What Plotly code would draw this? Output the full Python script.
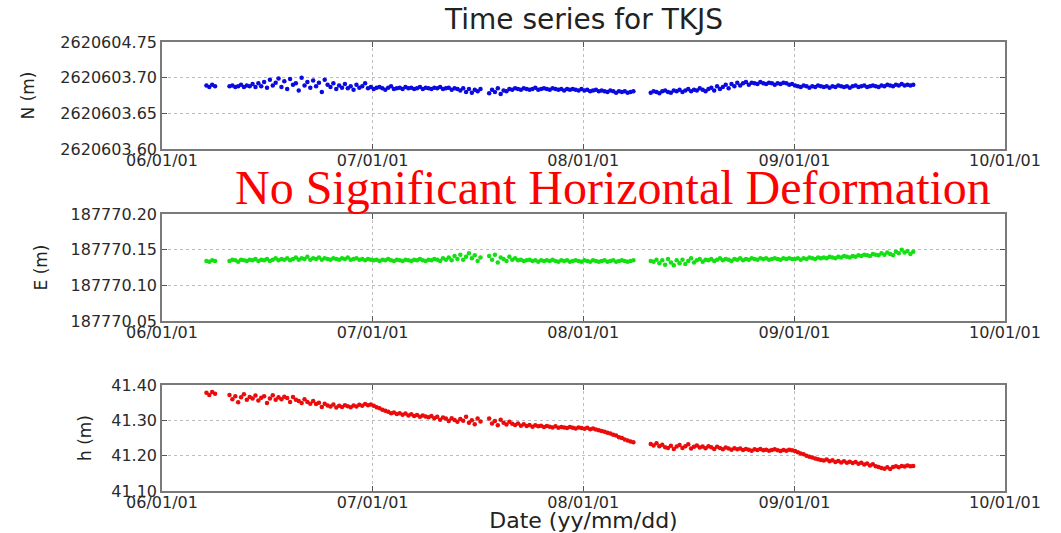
import pandas as pd
import plotly.graph_objects as go

# ---------------- data ----------------
title_text = "Time series for TKJS"
note_text = "No Significant Horizontal Deformation"

# observation segments (start date of each segment, samples every 5 days)
seg_starts = ["2006-03-19", "2006-04-28", "2007-07-22", "2008-04-27"]
step = "5D"

# North (m)
n_seg1 = [2620603.689, 2620603.687, 2620603.690, 2620603.688]
n_seg2 = [2620603.688, 2620603.689, 2620603.687, 2620603.688, 2620603.690, 2620603.687, 2620603.689, 2620603.688, 2620603.691, 2620603.687,
          2620603.692, 2620603.688, 2620603.694, 2620603.686, 2620603.697, 2620603.689, 2620603.693, 2620603.699, 2620603.687, 2620603.695,
          2620603.684, 2620603.698, 2620603.690, 2620603.692, 2620603.682, 2620603.700, 2620603.689, 2620603.694, 2620603.686, 2620603.696,
          2620603.688, 2620603.693, 2620603.680, 2620603.697, 2620603.690, 2620603.687, 2620603.692, 2620603.684, 2620603.689, 2620603.686,
          2620603.691, 2620603.685, 2620603.688, 2620603.683, 2620603.690, 2620603.686, 2620603.688, 2620603.692, 2620603.685, 2620603.687,
          2620603.684, 2620603.686, 2620603.687, 2620603.685, 2620603.683, 2620603.686, 2620603.688, 2620603.684, 2620603.685, 2620603.686,
          2620603.684, 2620603.687, 2620603.685, 2620603.686, 2620603.684, 2620603.685, 2620603.687, 2620603.684, 2620603.686, 2620603.685,
          2620603.684, 2620603.686, 2620603.685, 2620603.687, 2620603.684, 2620603.685, 2620603.686, 2620603.683, 2620603.685, 2620603.684,
          2620603.682, 2620603.685, 2620603.680, 2620603.684, 2620603.679, 2620603.683, 2620603.681, 2620603.684]
n_seg3 = [2620603.678, 2620603.683, 2620603.680, 2620603.685, 2620603.677, 2620603.682, 2620603.681, 2620603.684, 2620603.683, 2620603.685,
          2620603.684, 2620603.683, 2620603.685, 2620603.684, 2620603.683, 2620603.684, 2620603.686, 2620603.683, 2620603.684, 2620603.685,
          2620603.684, 2620603.683, 2620603.685, 2620603.684, 2620603.683, 2620603.684, 2620603.682, 2620603.684, 2620603.683, 2620603.684,
          2620603.683, 2620603.682, 2620603.684, 2620603.682, 2620603.683, 2620603.681, 2620603.682, 2620603.683, 2620603.681, 2620603.682,
          2620603.681, 2620603.680, 2620603.682, 2620603.681, 2620603.679, 2620603.681, 2620603.680, 2620603.681, 2620603.679, 2620603.680,
          2620603.681]
n_seg4 = [2620603.679, 2620603.681, 2620603.680, 2620603.678, 2620603.681, 2620603.682, 2620603.680, 2620603.679, 2620603.682, 2620603.681,
          2620603.683, 2620603.680, 2620603.682, 2620603.684, 2620603.681, 2620603.683, 2620603.682, 2620603.685, 2620603.683, 2620603.681,
          2620603.684, 2620603.686, 2620603.682, 2620603.688, 2620603.684, 2620603.687, 2620603.690, 2620603.685, 2620603.691, 2620603.688,
          2620603.693, 2620603.689, 2620603.692, 2620603.694, 2620603.690, 2620603.693, 2620603.692, 2620603.691, 2620603.694, 2620603.692,
          2620603.691, 2620603.693, 2620603.692, 2620603.690, 2620603.692, 2620603.691, 2620603.693, 2620603.692, 2620603.690, 2620603.691,
          2620603.689, 2620603.688, 2620603.687, 2620603.689, 2620603.688, 2620603.686, 2620603.688, 2620603.687, 2620603.689, 2620603.688,
          2620603.687, 2620603.688, 2620603.686, 2620603.688, 2620603.687, 2620603.689, 2620603.688, 2620603.687, 2620603.688, 2620603.686,
          2620603.688, 2620603.689, 2620603.687, 2620603.688, 2620603.689, 2620603.687, 2620603.688, 2620603.689, 2620603.688, 2620603.687,
          2620603.689, 2620603.688, 2620603.690, 2620603.689, 2620603.688, 2620603.690, 2620603.689, 2620603.691, 2620603.689, 2620603.690,
          2620603.689, 2620603.690]

# East (m)
e_seg1 = [187770.134, 187770.133, 187770.135, 187770.134]
e_seg2 = [187770.134, 187770.136, 187770.135, 187770.133, 187770.136, 187770.135, 187770.134, 187770.136, 187770.135, 187770.137,
          187770.134, 187770.136, 187770.135, 187770.137, 187770.134, 187770.136, 187770.138, 187770.135, 187770.137, 187770.136,
          187770.138, 187770.135, 187770.137, 187770.139, 187770.136, 187770.138, 187770.137, 187770.140, 187770.136, 187770.138,
          187770.137, 187770.139, 187770.136, 187770.138, 187770.137, 187770.136, 187770.138, 187770.137, 187770.136, 187770.138,
          187770.137, 187770.139, 187770.136, 187770.137, 187770.138, 187770.136, 187770.137, 187770.135, 187770.137, 187770.136,
          187770.135, 187770.136, 187770.134, 187770.136, 187770.135, 187770.137, 187770.135, 187770.134, 187770.136, 187770.135,
          187770.134, 187770.136, 187770.135, 187770.134, 187770.136, 187770.135, 187770.137, 187770.135, 187770.134, 187770.136,
          187770.135, 187770.137, 187770.136, 187770.134, 187770.138, 187770.136, 187770.139, 187770.135, 187770.141, 187770.137,
          187770.143, 187770.136, 187770.140, 187770.145, 187770.138, 187770.142, 187770.134, 187770.139]
e_seg3 = [187770.141, 187770.136, 187770.143, 187770.132, 187770.139, 187770.137, 187770.134, 187770.140, 187770.136, 187770.138,
          187770.135, 187770.136, 187770.134, 187770.135, 187770.136, 187770.134, 187770.135, 187770.133, 187770.135, 187770.134,
          187770.135, 187770.134, 187770.136, 187770.134, 187770.133, 187770.135, 187770.134, 187770.135, 187770.133, 187770.134,
          187770.135, 187770.134, 187770.133, 187770.135, 187770.134, 187770.133, 187770.135, 187770.134, 187770.133, 187770.134,
          187770.135, 187770.133, 187770.134, 187770.135, 187770.133, 187770.134, 187770.135, 187770.134, 187770.133, 187770.134,
          187770.135]
e_seg4 = [187770.134, 187770.133, 187770.136, 187770.131, 187770.135, 187770.129, 187770.137, 187770.132, 187770.128, 187770.135,
          187770.131, 187770.136, 187770.130, 187770.134, 187770.138, 187770.132, 187770.135, 187770.137, 187770.133, 187770.136,
          187770.135, 187770.137, 187770.134, 187770.136, 187770.138, 187770.135, 187770.137, 187770.136, 187770.134, 187770.137,
          187770.136, 187770.138, 187770.135, 187770.137, 187770.136, 187770.138, 187770.137, 187770.136, 187770.138, 187770.137,
          187770.138, 187770.136, 187770.137, 187770.138, 187770.137, 187770.136, 187770.138, 187770.137, 187770.138, 187770.137,
          187770.137, 187770.138, 187770.136, 187770.138, 187770.137, 187770.139, 187770.138, 187770.137, 187770.139, 187770.138,
          187770.139, 187770.138, 187770.140, 187770.139, 187770.138, 187770.140, 187770.139, 187770.141, 187770.140, 187770.139,
          187770.141, 187770.140, 187770.142, 187770.141, 187770.143, 187770.142, 187770.141, 187770.144, 187770.143, 187770.142,
          187770.145, 187770.143, 187770.146, 187770.144, 187770.142, 187770.147, 187770.145, 187770.150, 187770.146, 187770.148,
          187770.144, 187770.147]

# Height (m)
h_seg1 = [41.378, 41.372, 41.380, 41.375]
h_seg2 = [41.372, 41.360, 41.368, 41.351, 41.365, 41.374, 41.358, 41.366, 41.362, 41.370,
          41.356, 41.364, 41.368, 41.349, 41.362, 41.371, 41.358, 41.365, 41.360, 41.367,
          41.363, 41.352, 41.366, 41.358, 41.355, 41.349, 41.360, 41.352, 41.347, 41.355,
          41.346, 41.350, 41.338, 41.347, 41.342, 41.339, 41.345, 41.336, 41.341, 41.338,
          41.343, 41.340, 41.337, 41.342, 41.339, 41.344, 41.341, 41.346, 41.343, 41.345,
          41.341, 41.337, 41.334, 41.330, 41.327, 41.324, 41.320, 41.322, 41.318, 41.320,
          41.316, 41.319, 41.314, 41.317, 41.312, 41.315, 41.310, 41.314, 41.311, 41.309,
          41.312, 41.306, 41.310, 41.302, 41.308, 41.305, 41.298, 41.306, 41.301, 41.296,
          41.304, 41.299, 41.310, 41.293, 41.300, 41.289, 41.305, 41.297]
h_seg3 = [41.305, 41.291, 41.298, 41.286, 41.302, 41.293, 41.288, 41.296, 41.290, 41.287,
          41.291, 41.285, 41.289, 41.284, 41.287, 41.282, 41.286, 41.283, 41.285, 41.281,
          41.284, 41.282, 41.280, 41.283, 41.279, 41.281, 41.280, 41.278, 41.281, 41.279,
          41.277, 41.280, 41.278, 41.276, 41.279, 41.275, 41.277, 41.274, 41.272, 41.270,
          41.268, 41.265, 41.263, 41.259, 41.257, 41.252, 41.250, 41.246, 41.243, 41.240,
          41.238]
h_seg4 = [41.233, 41.229, 41.235, 41.227, 41.231, 41.224, 41.222, 41.228, 41.219, 41.226,
          41.230, 41.222, 41.227, 41.232, 41.220, 41.225, 41.229, 41.223, 41.226, 41.221,
          41.227, 41.224, 41.219, 41.225, 41.222, 41.218, 41.223, 41.220, 41.217, 41.221,
          41.218, 41.220, 41.216, 41.219, 41.217, 41.214, 41.218, 41.216, 41.219, 41.215,
          41.217, 41.214, 41.216, 41.218, 41.215, 41.213, 41.216, 41.214, 41.217, 41.215,
          41.213, 41.210, 41.206, 41.204, 41.200, 41.197, 41.195, 41.192, 41.190, 41.188,
          41.186, 41.189, 41.184, 41.187, 41.182, 41.185, 41.181, 41.184, 41.180, 41.183,
          41.179, 41.182, 41.177, 41.180, 41.175, 41.178, 41.172, 41.176, 41.170, 41.168,
          41.165, 41.163, 41.167, 41.162, 41.168, 41.170, 41.167, 41.171, 41.169, 41.172,
          41.170, 41.171]

# axis ticks
x_ticks = ["2006-01-01", "2007-01-01", "2008-01-01", "2009-01-01", "2010-01-01"]
n_tickvals = [2620603.60, 2620603.65, 2620603.70, 2620603.75]
n_ticktext = ["2620603.60", "2620603.65", "2620603.70", "2620604.75"]
e_tickvals = [187770.05, 187770.10, 187770.15, 187770.20]
e_ticktext = ["187770.05", "187770.10", "187770.15", "187770.20"]
h_tickvals = [41.10, 41.20, 41.30, 41.40]
h_ticktext = ["41.10", "41.20", "41.30", "41.40"]

# ---------------- build ----------------
def build(segs):
    xs, ys = [], []
    for start, vals in zip(seg_starts, segs):
        d = pd.date_range(start, periods=len(vals), freq=step)
        xs.extend(list(d))
        ys.extend(vals)
    return xs, ys

series = [
    ([n_seg1, n_seg2, n_seg3, n_seg4], "#0a0ae0", "x", "y"),
    ([e_seg1, e_seg2, e_seg3, e_seg4], "#12e012", "x2", "y2"),
    ([h_seg1, h_seg2, h_seg3, h_seg4], "#ec0a0a", "x3", "y3"),
]

fig = go.Figure()
for segs, col, xa, ya in series:
    xs, ys = build(segs)
    fig.add_trace(go.Scatter(x=xs, y=ys, mode="markers", xaxis=xa, yaxis=ya,
                             marker=dict(color=col, size=4.5, line=dict(width=0)),
                             showlegend=False))

W, H = 1061, 533
xl, xr = 162 / W, 1005 / W
doms = [(1 - 149 / H, 1 - 42 / H), (1 - 321 / H, 1 - 214 / H), (1 - 491 / H, 1 - 385 / H)]
title_standoffs = [21, 19, 15]

tickfont = dict(family="DejaVu Sans", size=16, color="#2a2a2a")
axis_common = dict(showline=True, linecolor="#7a7a7a", linewidth=1.5, mirror="ticks",
                   ticks="inside", ticklen=5, tickcolor="#555555", tickwidth=1,
                   showgrid=True, gridcolor="#bdbdbd", griddash="dot", gridwidth=1,
                   zeroline=False, tickfont=tickfont, automargin=False)

ticks_y = [(n_tickvals, n_ticktext, "N (m)"), (e_tickvals, e_ticktext, "E (m)"), (h_tickvals, h_ticktext, "h (m)")]
layout = dict(width=W, height=H, margin=dict(l=0, r=0, t=0, b=0, autoexpand=False),
              plot_bgcolor="white", paper_bgcolor="white", showlegend=False)
for i in range(3):
    sx = "xaxis" if i == 0 else f"xaxis{i+1}"
    sy = "yaxis" if i == 0 else f"yaxis{i+1}"
    yv, yt, ytitle = ticks_y[i]
    layout[sx] = dict(axis_common, domain=[xl, xr], anchor="y" if i == 0 else f"y{i+1}",
                      type="date", range=[x_ticks[0], x_ticks[-1]], tickmode="array",
                      tickvals=x_ticks, tickformat="%y/%m/%d", ticklabelstandoff=-4)
    layout[sy] = dict(axis_common, domain=list(doms[i]), anchor="x" if i == 0 else f"x{i+1}",
                      range=[yv[0], yv[-1]], tickmode="array", tickvals=yv, ticktext=yt,
                      title=dict(text=ytitle, font=dict(family="DejaVu Sans", size=17, color="#222222"),
                                 standoff=title_standoffs[i]))
layout["xaxis3"]["title"] = dict(text="Date (yy/mm/dd)", font=dict(family="DejaVu Sans", size=22, color="#222222"),
                                 standoff=2)
fig.update_layout(**layout)

fig.add_annotation(text=title_text, xref="paper", yref="paper", x=(xl + xr) / 2, y=1 - 20 / H,
                   xanchor="center", yanchor="middle", showarrow=False,
                   font=dict(family="DejaVu Sans", size=28, color="#222222"))
fig.add_annotation(text=note_text, xref="paper", yref="paper", x=613 / W, y=1 - 187 / H,
                   xanchor="center", yanchor="middle", showarrow=False,
                   font=dict(family="Liberation Serif", size=48, color="#ff0000"))

fig.write_html("out.html")
